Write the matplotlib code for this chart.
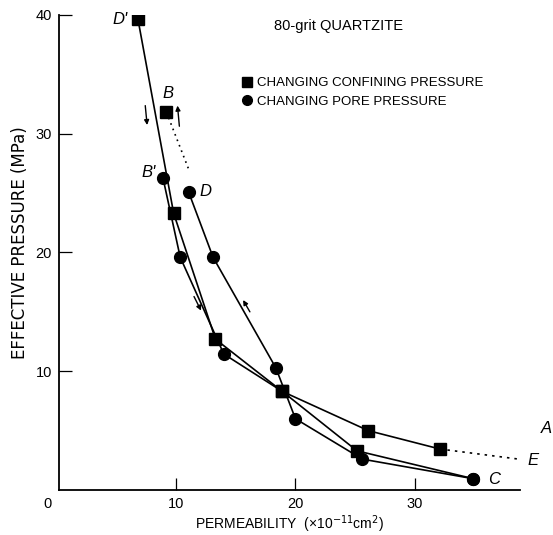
import matplotlib.pyplot as plt
from matplotlib.lines import Line2D

plt.rcParams['font.family'] = ['Liberation Sans', 'DejaVu Sans']

# confining pressure path A -> D' (squares)
conf_perm = [32.1, 26.1, 18.9, 13.3, 9.8, 6.8]
conf_pres = [3.45, 5.0, 8.3, 12.7, 23.3, 39.7]

# return path D' -> ... B' -> C
ret_perm = [8.9, 10.35, 14.0, 18.9, 25.15, 34.9]
ret_pres = [26.3, 19.6, 11.45, 8.3, 3.3, 0.95]
ret_sq = [False, False, False, True, True, False]

# pore pressure path C -> D (circles)
pore_perm = [34.9, 25.6, 20.0, 18.35, 13.1, 11.05]
pore_pres = [0.95, 2.6, 6.0, 10.3, 19.6, 25.1]

# dotted extensions
dot1_perm = [9.2, 11.1]
dot1_pres = [31.8, 26.9]
dot2_perm = [32.1, 38.7]
dot2_pres = [3.45, 2.6]

b_perm, b_pres = 9.2, 31.8

fig = plt.figure(figsize=(5.53, 5.35), dpi=100)
ax = fig.add_axes([0.1067, 0.0841, 0.8336, 0.8879])

lw = 1.2
ms_sq = 8
ms_ci = 8.5

ax.plot(conf_perm, conf_pres, 'k-', lw=lw, marker='s', ms=ms_sq, zorder=3)
ax.plot(ret_perm, ret_pres, 'k-', lw=lw, zorder=2)
for p, q, s in zip(ret_perm, ret_pres, ret_sq):
    ax.plot(p, q, 'k', marker='s' if s else 'o', ms=ms_sq if s else ms_ci, zorder=4)
ax.plot(pore_perm, pore_pres, 'k-', lw=lw, marker='o', ms=ms_ci, zorder=3)
ax.plot(b_perm, b_pres, 'ks', ms=ms_sq, zorder=4)
ax.plot(dot1_perm, dot1_pres, 'k', ls=(0, (1, 2.5)), lw=1.2)
ax.plot(dot2_perm, dot2_pres, 'k', ls=(0, (1.5, 3)), lw=1.2, clip_on=False)

# little direction arrows
arr = dict(arrowstyle='-|>', lw=1.0, color='k', mutation_scale=7)
ax.annotate('', xy=(7.6, 30.5), xytext=(7.4, 32.6), arrowprops=arr)
ax.annotate('', xy=(10.1, 32.6), xytext=(10.3, 30.4), arrowprops=arr)
ax.annotate('', xy=(12.2, 14.9), xytext=(11.4, 16.5), arrowprops=arr)
ax.annotate('', xy=(15.5, 16.2), xytext=(16.3, 14.8), arrowprops=arr)

# point labels
lab = dict(fontsize=12, style='italic', ha='center', va='center')
ax.text(5.3, 39.6, "D'", **lab)
ax.text(9.3, 33.4, "B", **lab)
ax.text(7.7, 26.7, "B'", **lab)
ax.text(12.5, 25.1, "D", **lab)
ax.text(41.0, 5.2, "A", clip_on=False, **lab)
ax.text(39.9, 2.45, "E", clip_on=False, **lab)
ax.text(36.6, 0.85, "C", clip_on=False, **lab)

ax.text(23.6, 39.1, "80-grit QUARTZITE", fontsize=10.5, ha='center', va='center')

handles = [Line2D([], [], color='k', marker='s', ls='none', ms=6.5),
           Line2D([], [], color='k', marker='o', ls='none', ms=7)]
ax.legend(handles, ['CHANGING CONFINING PRESSURE', 'CHANGING PORE PRESSURE'],
          loc='upper left', bbox_to_anchor=(0.38, 0.88), frameon=False,
          fontsize=9.5, handletextpad=0.1, handlelength=1.2,
          labelspacing=0.45, borderaxespad=0)

ax.set_xlim(0.2, 38.8)
ax.set_ylim(0, 40)
ax.set_xticks([10, 20, 30])
ax.set_yticks([10, 20, 30, 40])
ax.tick_params(direction='in', length=9, width=0.9, labelsize=10.5, pad=5)
for s in ['top', 'right']:
    ax.spines[s].set_visible(False)
for s in ['left', 'bottom']:
    ax.spines[s].set_linewidth(1.3)
ax.text(-0.024, -0.03, "0", transform=ax.transAxes, fontsize=10.5,
        ha='center', va='center')

ax.set_ylabel('EFFECTIVE PRESSURE (MPa)', fontsize=12, family='DejaVu Sans')
ax.yaxis.set_label_coords(-0.065, 0.52)
ax.set_xlabel(r'PERMEABILITY  (×10$^{-11}$cm$^2$)', fontsize=10, labelpad=2)

fig.savefig('out.png', dpi=100)
